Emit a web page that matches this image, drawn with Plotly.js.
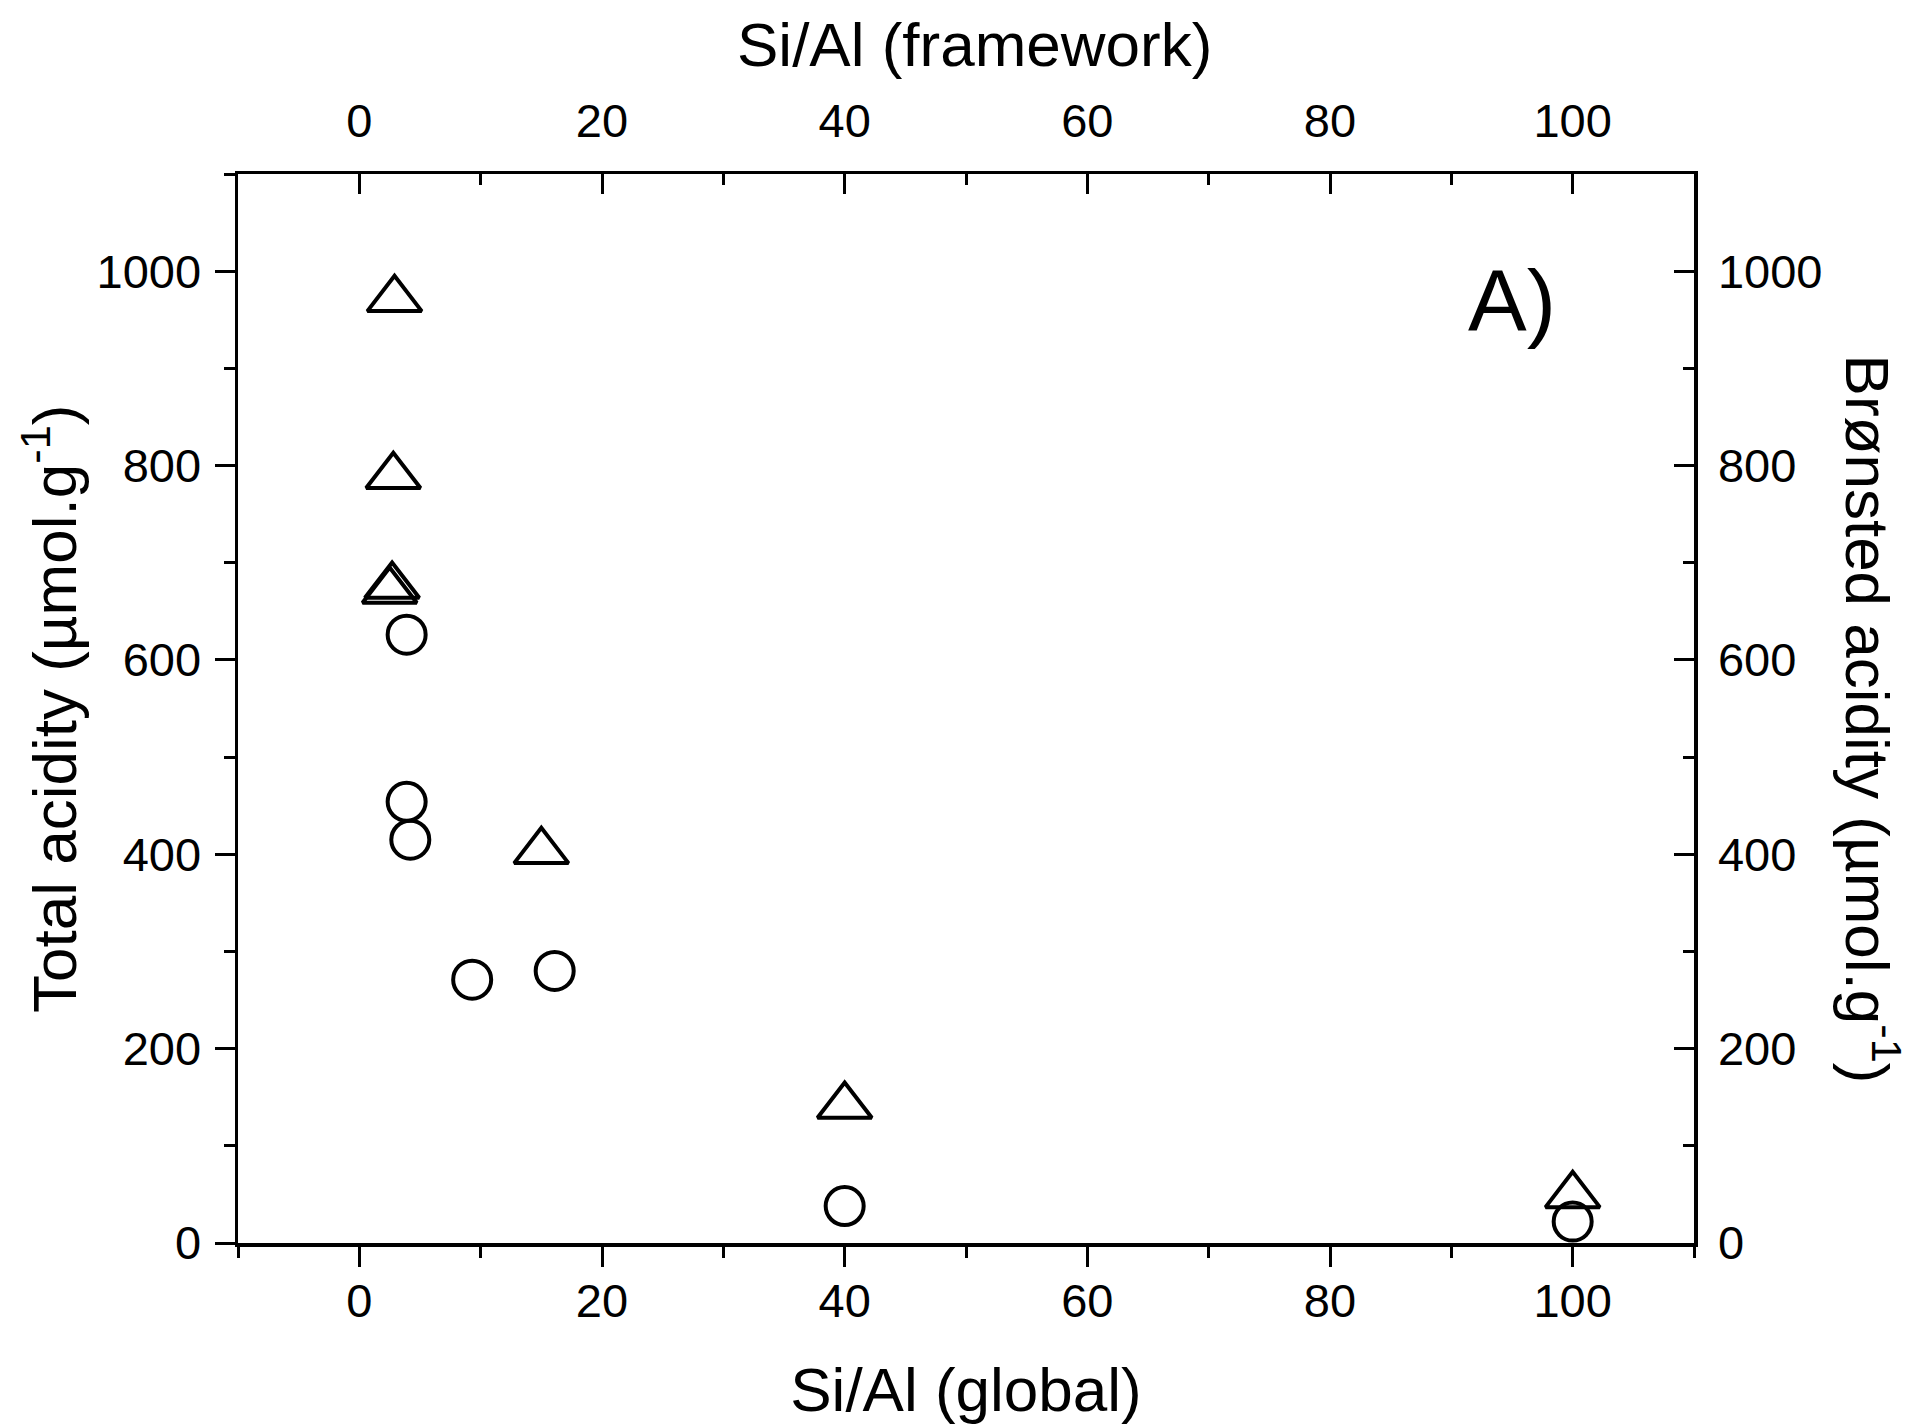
<!DOCTYPE html>
<html>
<head>
<meta charset="utf-8">
<script src="https://cdn.plot.ly/plotly-3.0.1.min.js"></script>
<style>html,body{margin:0;padding:0;background:#fff;}#chart{width:1913px;height:1424px;}</style>
</head>
<body>
<div id="chart"></div>
<script>
// Total acidity (triangles) vs Si/Al (global)
const totalSiAl = [2.9, 2.8, 2.7, 2.5, 15.0, 40.0, 100.0];
const totalAcidity = [971, 789, 676, 671, 403, 141, 49];
// Brønsted acidity (circles) vs Si/Al (framework)
const bronstedSiAl = [3.9, 3.9, 4.2, 9.3, 16.1, 40.0, 100.0];
const bronstedAcidity = [626, 454, 415, 271, 280, 38, 22];

const xTicks = [0, 20, 40, 60, 80, 100];
const yTicks = [0, 200, 400, 600, 800, 1000];
const panelLabel = 'A)';

const FONT = 'Liberation Sans, Arial, sans-serif';
const tickFont = {family: FONT, size: 47, color: '#000'};
const titleFont = {family: FONT, size: 62, color: '#000'};

const traces = [
  {
    x: totalSiAl, y: totalAcidity, xaxis: 'x', yaxis: 'y',
    type: 'scatter', mode: 'markers', name: 'Total acidity',
    marker: {symbol: 'triangle-up-open', size: 47, color: '#000', line: {width: 4, color: '#000'}}
  },
  {
    x: bronstedSiAl, y: bronstedAcidity, xaxis: 'x2', yaxis: 'y2',
    type: 'scatter', mode: 'markers', name: 'Brønsted acidity',
    marker: {symbol: 'circle-open', size: 38, color: '#000', line: {width: 4, color: '#000'}}
  }
];

const common = {
  showgrid: false, zeroline: false, showline: true, linecolor: '#000', linewidth: 3.5,
  tickcolor: '#000', tickwidth: 3, tickfont: tickFont, automargin: false
};

const layout = {
  width: 1913, height: 1424,
  margin: {l: 238, r: 219, t: 174, b: 181},
  paper_bgcolor: '#fff', plot_bgcolor: '#fff',
  showlegend: false,
  xaxis: Object.assign({}, common, {
    range: [-10, 110], tickvals: xTicks, ticktext: xTicks.map(String),
    side: 'bottom', ticks: 'outside', ticklen: 20, ticklabelstandoff: -6,
    minor: {dtick: 10, tick0: 0, ticks: 'outside', ticklen: 11, tickwidth: 3, tickcolor: '#000'},
    title: {text: 'Si/Al (global)', font: titleFont, standoff: 42}
  }),
  xaxis2: Object.assign({}, common, {
    range: [-10, 110], tickvals: xTicks, ticktext: xTicks.map(String),
    overlaying: 'x', side: 'top', anchor: 'y', ticks: 'inside', ticklen: 20, ticklabelstandoff: 15,
    minor: {dtick: 10, tick0: 0, ticks: 'inside', ticklen: 11, tickwidth: 3, tickcolor: '#000'}
  }),
  yaxis: Object.assign({}, common, {
    range: [0, 1100], tickvals: yTicks, ticktext: yTicks.map(String),
    side: 'left', ticks: 'outside', ticklen: 20, ticklabelstandoff: 4,
    minor: {dtick: 100, tick0: 0, ticks: 'outside', ticklen: 11, tickwidth: 3, tickcolor: '#000'}
  }),
  yaxis2: Object.assign({}, common, {
    range: [0, 1100], tickvals: yTicks, ticktext: yTicks.map(String),
    overlaying: 'y', side: 'right', anchor: 'x', ticks: 'inside', ticklen: 20, ticklabelstandoff: 11,
    minor: {dtick: 100, tick0: 0, ticks: 'inside', ticklen: 11, tickwidth: 3, tickcolor: '#000'}
  }),
  annotations: [
    {
      text: 'Si/Al (framework)',
      xref: 'paper', yref: 'paper', x: 0.506, y: 1.121, xanchor: 'center', yanchor: 'middle',
      showarrow: false, font: titleFont
    },
    {
      text: 'Total acidity (µmol.g<sup>-1</sup>)', textangle: -90,
      xref: 'paper', yref: 'paper', x: -0.1295, y: 0.50, xanchor: 'center', yanchor: 'middle',
      showarrow: false, font: titleFont
    },
    {
      text: 'Brønsted acidity (µmol.g<sup>-1</sup>)', textangle: 90,
      xref: 'paper', yref: 'paper', x: 1.122, y: 0.49, xanchor: 'center', yanchor: 'middle',
      showarrow: false, font: titleFont
    },
    {
      text: panelLabel, xref: 'x', yref: 'y', x: 95, y: 970,
      xanchor: 'center', yanchor: 'middle', showarrow: false,
      font: {family: FONT, size: 88, color: '#000'}
    }
  ]
};

Plotly.newPlot('chart', traces, layout, {displayModeBar: false, staticPlot: true});
</script>
</body>
</html>
